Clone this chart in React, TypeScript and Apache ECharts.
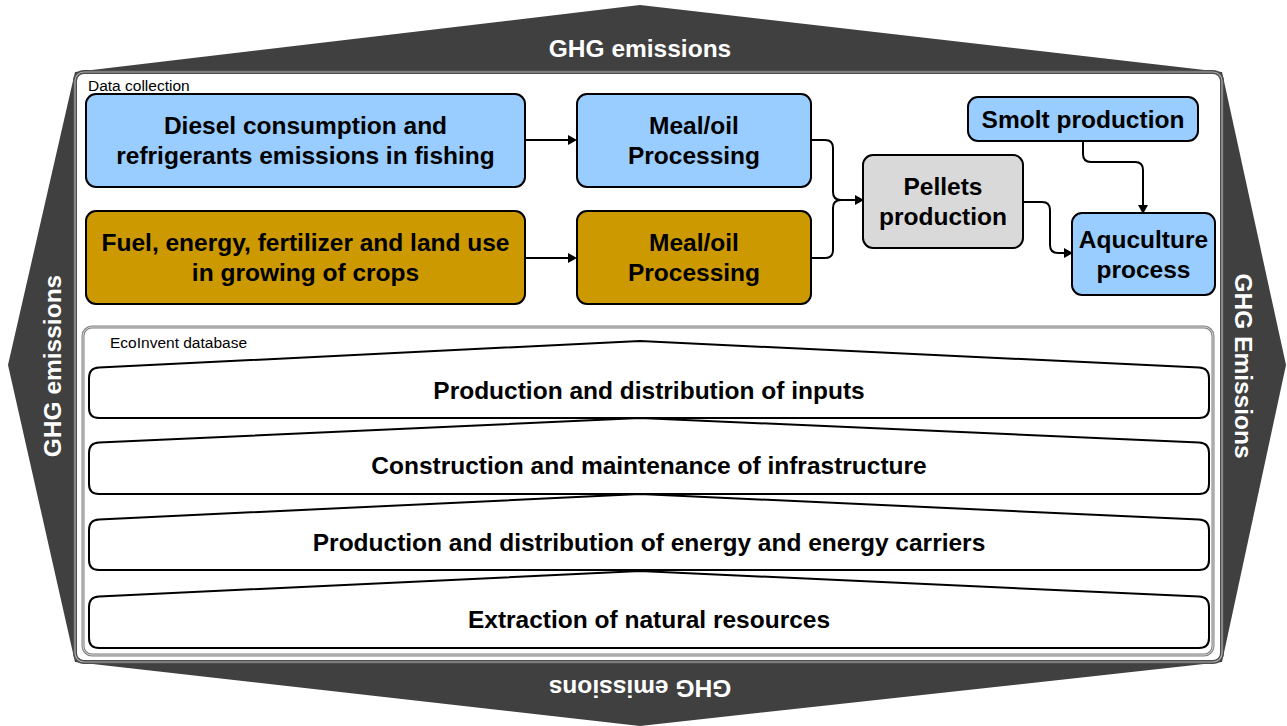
import React, { useEffect, useRef } from "react";
import * as echarts from "echarts";

// ---- content ----
const ghgLabels = ["GHG emissions", "GHG emissions", "GHG emissions", "GHG Emissions"]; // top, bottom, left, right
const sectionLabels = ["Data collection", "EcoInvent database"];
const processLabels = [
  "Diesel consumption and\nrefrigerants emissions in fishing",
  "Fuel, energy, fertilizer and land use\nin growing of crops",
  "Meal/oil\nProcessing",
  "Meal/oil\nProcessing",
  "Pellets\nproduction",
  "Smolt production",
  "Aquculture\nprocess",
];
const processKinds = ["fish", "crop", "fish", "crop", "feed", "fish", "fish"];
const layerLabels = [
  "Production and distribution of inputs",
  "Construction and maintenance of infrastructure",
  "Production and distribution of energy and energy carriers",
  "Extraction of natural resources",
];

// ---- layout (positions / sizes) ----
const boxGeom = [
  [86, 94, 439, 93],
  [86, 211, 439, 93],
  [577, 94, 234, 93],
  [577, 211, 234, 93],
  [863, 155, 160, 93],
  [968, 97, 230, 44],
  [1072, 213, 143, 82],
];
const layerTop = [368, 443, 520, 597];
const layerApex = [341, 418, 494, 571];
const layerBottom = [418, 494, 570, 648];

const kindColor: Record<string, string> = { fish: "#99CCFF", crop: "#CC9900", feed: "#D9D9D9" };
const FONT = "'Liberation Sans', Arial, Helvetica, sans-serif";
const DARK = "#404040";

let shapeCounter = 0;
function pathEl(d: string, style: any) {
  const name = "shp" + shapeCounter++;
  echarts.graphic.registerShape(name, (echarts.graphic as any).extendPath(d, {}));
  return { type: name, x: 0, y: 0, style };
}

function txt(text: string, x: number, y: number, size: number, weight: string, fill: string, rotation = 0, align = "center") {
  return {
    type: "text",
    x,
    y,
    rotation,
    style: {
      text,
      fill,
      fontSize: size,
      fontWeight: weight,
      fontFamily: FONT,
      textAlign: align,
      textVerticalAlign: "middle",
      align,
      verticalAlign: "middle",
      lineHeight: 30,
    },
  };
}

function layerPath(x1: number, x2: number, yT: number, yA: number, yB: number, r: number) {
  const ax = 640;
  const sL = (yT - yA) / (ax - x1);
  const sR = (yT - yA) / (x2 - ax);
  return [
    `M ${x1} ${yT + r}`,
    `Q ${x1} ${yT} ${x1 + r} ${yT - sL * r}`,
    `L ${ax} ${yA}`,
    `L ${x2 - r} ${yT - sR * r}`,
    `Q ${x2} ${yT} ${x2} ${yT + r}`,
    `L ${x2} ${yB - r}`,
    `Q ${x2} ${yB} ${x2 - r} ${yB}`,
    `L ${x1 + r} ${yB}`,
    `Q ${x1} ${yB} ${x1} ${yB - r}`,
    "Z",
  ].join(" ");
}

function head(tx: number, ty: number, dir: "r" | "d") {
  const L = 9, W = 5;
  const pts = dir === "r"
    ? [[tx, ty], [tx - L, ty - W], [tx - L, ty + W]]
    : [[tx, ty], [tx - W, ty - L], [tx + W, ty - L]];
  return { type: "polygon", shape: { points: pts }, style: { fill: "#000" } };
}

export default function App() {
  const ref = useRef<HTMLDivElement>(null);
  useEffect(() => {
    if (!ref.current) return;
    const chart = echarts.init(ref.current, undefined, { renderer: "svg" });
    const els: any[] = [];

    // dark GHG frame
    els.push({
      type: "polygon",
      shape: { points: [[75, 72], [640, 5], [1222, 72], [1286, 365], [1222, 662], [640, 726], [75, 662], [8, 365]] },
      style: { fill: DARK },
    });
    els.push(txt(ghgLabels[0], 640, 48, 24.5, "bold", "#fff"));
    els.push(txt(ghgLabels[1], 640, 688, 24.5, "bold", "#fff", Math.PI));
    els.push(txt(ghgLabels[2], 52, 366, 24.5, "bold", "#fff", Math.PI / 2));
    els.push(txt(ghgLabels[3], 1243, 366, 24.5, "bold", "#fff", -Math.PI / 2));

    // outer white box
    els.push({ type: "rect", shape: { x: 75, y: 72, width: 1147, height: 590, r: 9 }, style: { fill: "#fff", stroke: "#4d4d4d", lineWidth: 4 } });
    els.push({ type: "rect", shape: { x: 75, y: 72, width: 1147, height: 590, r: 9 }, style: { fill: "none", stroke: "#b0b0b0", lineWidth: 1.2 } });
    els.push(txt(sectionLabels[0], 88, 85, 15.5, "normal", "#000", 0, "left"));

    // EcoInvent box
    els.push({ type: "rect", shape: { x: 83, y: 327, width: 1130, height: 328, r: 9 }, style: { fill: "#fff", stroke: "#808080", lineWidth: 3 } });
    els.push({ type: "rect", shape: { x: 83, y: 327, width: 1130, height: 328, r: 9 }, style: { fill: "none", stroke: "#d8d8d8", lineWidth: 1 } });
    els.push(txt(sectionLabels[1], 110, 342, 15.5, "normal", "#000", 0, "left"));

    // layers
    layerLabels.forEach((lab, i) => {
      els.push(pathEl(layerPath(89, 1209, layerTop[i], layerApex[i], layerBottom[i], 10), { fill: "#fff", stroke: "#000", lineWidth: 2 }));
    });
    layerLabels.forEach((lab, i) => {
      els.push(txt(lab, 649, (layerTop[i] + layerBottom[i]) / 2 - 3, 24.5, "bold", "#000"));
    });

    // connectors
    const lineStyle = { fill: "none", stroke: "#000", lineWidth: 2 };
    els.push({ type: "line", shape: { x1: 525, y1: 140, x2: 570, y2: 140 }, style: { stroke: "#000", lineWidth: 2 } });
    els.push(head(577, 140, "r"));
    els.push({ type: "line", shape: { x1: 525, y1: 258, x2: 570, y2: 258 }, style: { stroke: "#000", lineWidth: 2 } });
    els.push(head(577, 258, "r"));
    els.push(pathEl("M 811 140 L 825 140 Q 833 140 833 148 L 833 192 Q 833 200 841 200 L 856 200", lineStyle));
    els.push(pathEl("M 811 258 L 825 258 Q 833 258 833 250 L 833 208 Q 833 200 841 200 L 856 200", lineStyle));
    els.push(head(864, 200, "r"));
    els.push(pathEl("M 1023 202 L 1042 202 Q 1050 202 1050 210 L 1050 245 Q 1050 253 1058 253 L 1065 253", lineStyle));
    els.push(head(1073, 253, "r"));
    els.push(pathEl("M 1083 141 L 1083 154 Q 1083 162 1091 162 L 1135 162 Q 1143 162 1143 170 L 1143 206", lineStyle));
    els.push(head(1143, 214, "d"));

    // process boxes
    processLabels.forEach((lab, i) => {
      const [x, y, w, h] = boxGeom[i];
      els.push({ type: "rect", shape: { x, y, width: w, height: h, r: 10 }, style: { fill: kindColor[processKinds[i]], stroke: "#000", lineWidth: 2 } });
      els.push(txt(lab, x + w / 2, y + h / 2, 24.5, "bold", "#000"));
    });

    els.forEach((e, i) => { e.z = i; });

    chart.setOption({ animation: false, backgroundColor: "#fff", graphic: { elements: els } });
    return () => chart.dispose();
  }, []);
  return <div ref={ref} style={{ position: "fixed", left: 0, top: 0, width: 1287, height: 726 }} />;
}
